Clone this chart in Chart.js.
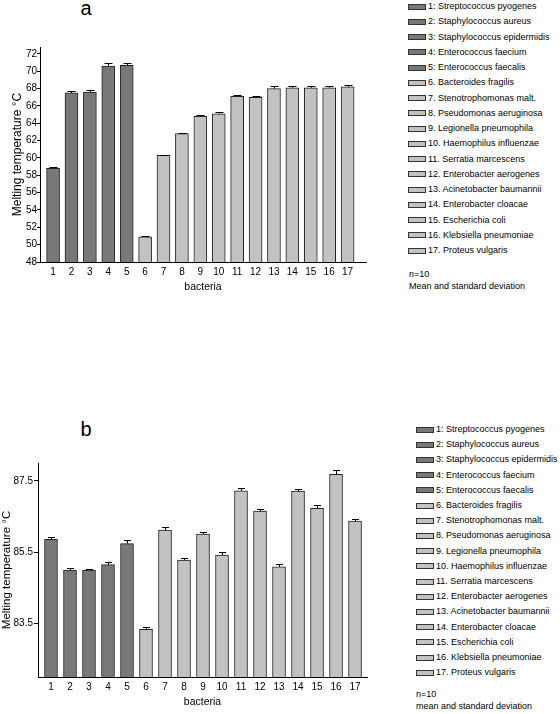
<!DOCTYPE html>
<html>
<head>
<meta charset="utf-8">
<script src="https://cdn.jsdelivr.net/npm/chart.js@4.4.0/dist/chart.umd.min.js"></script>
<style>
  html, body { margin: 0; padding: 0; background: #fff; }
  body { width: 560px; height: 714px; position: relative; overflow: hidden;
         font-family: "Liberation Sans", Arial, sans-serif; color: #000; }
  canvas { position: absolute; left: 0; }
  .letter { position: absolute; font-size: 20px; line-height: 20px; }
  .legend { position: absolute; left: 0; top: 0; font-size: 9px; }
  .legend .row { position: absolute; height: 10px; line-height: 10px; white-space: nowrap; }
  .legend .box { display: inline-block; width: 18px; height: 6px; border: 1px solid #333;
                 box-sizing: border-box; vertical-align: middle; margin-right: 2px; }
  .note { position: absolute; font-size: 9px; line-height: 11.8px; white-space: nowrap; }
</style>
</head>
<body>
<div class="letter" style="left:80.5px; top:-2px;">a</div>
<canvas id="chartA" width="380" height="300" style="top:0; width:380px; height:300px;"></canvas>
<div class="legend" id="legendA"></div>
<div class="note" id="noteA" style="left:409px; top:269px;"></div>

<div class="letter" style="left:80.5px; top:419px;">b</div>
<canvas id="chartB" width="380" height="334" style="top:380px; width:380px; height:334px;"></canvas>
<div class="legend" id="legendB"></div>
<div class="note" id="noteB" style="left:416px; top:689px;"></div>

<script>
// bacteria (legend) and their number on the x axis
const bacteria = [
  '1: Streptococcus pyogenes', '2: Staphylococcus aureus', '3: Staphylococcus epidermidis',
  '4: Enterococcus faecium', '5: Enterococcus faecalis', '6. Bacteroides fragilis',
  '7. Stenotrophomonas malt.', '8. Pseudomonas aeruginosa', '9. Legionella pneumophila',
  '10. Haemophilus influenzae', '11. Serratia marcescens', '12. Enterobacter aerogenes',
  '13. Acinetobacter baumannii', '14. Enterobacter cloacae', '15. Escherichia coli',
  '16. Klebsiella pneumoniae', '17. Proteus vulgaris'
];
const xTicks = [1, 2, 3, 4, 5, 6, 7, 8, 9, 10, 11, 12, 13, 14, 15, 16, 17];
// first five are gram positive (dark bars)
const gram = ['pos', 'pos', 'pos', 'pos', 'pos', 'neg', 'neg', 'neg', 'neg', 'neg', 'neg', 'neg', 'neg', 'neg', 'neg', 'neg', 'neg'];

// panel a
const meltA = [58.8, 67.5, 67.6, 70.6, 70.7, 50.9, 60.3, 62.8, 64.8, 65.1, 67.1, 67.0, 68.0, 68.1, 68.1, 68.1, 68.2];
const sdA   = [0.12, 0.2, 0.2, 0.3, 0.25, 0.05, 0.1, 0.1, 0.15, 0.15, 0.2, 0.2, 0.3, 0.2, 0.25, 0.25, 0.2];
const yTicksA = [48, 50, 52, 54, 56, 58, 60, 62, 64, 66, 68, 70, 72];
const noteA = ['n=10', 'Mean and standard deviation'];

// panel b
const meltB = [85.86, 85.0, 85.0, 85.15, 85.74, 83.34, 86.12, 85.28, 86.01, 85.42, 87.22, 86.65, 85.09, 87.21, 86.73, 87.68, 86.37];
const sdB   = [0.06, 0.05, 0.04, 0.08, 0.1, 0.06, 0.09, 0.06, 0.06, 0.08, 0.07, 0.06, 0.07, 0.07, 0.08, 0.11, 0.05];
const yTicksB = [83.5, 85.5, 87.5];
const noteB = ['n=10', 'mean and standard deviation'];

const FONT = '"Liberation Sans", Arial, sans-serif';
Chart.defaults.font.family = FONT;
Chart.defaults.color = '#000';

const DARK = '#787878', LIGHT = '#c2c2c2';

// error bars drawn from the y scale
const errorBars = {
  id: 'errorBars',
  afterDatasetsDraw(chart, args, opts) {
    const ctx = chart.ctx;
    const y = chart.scales.y;
    const ds = chart.data.datasets[0];
    const meta = chart.getDatasetMeta(0);
    ctx.save();
    ctx.strokeStyle = '#000';
    ctx.lineWidth = 1;
    meta.data.forEach((bar, i) => {
      const top = Math.round(y.getPixelForValue(ds.data[i].y + ds.sd[i])) + 0.5;
      const x = Math.round(bar.x) + 0.5;
      ctx.beginPath();
      ctx.moveTo(x, bar.y);
      ctx.lineTo(x, top);
      ctx.moveTo(x - opts.cap / 2, top);
      ctx.lineTo(x + opts.cap / 2, top);
      ctx.stroke();
    });
    ctx.restore();
  }
};

function makeChart(id, values, sd, yTicks, o) {
  return new Chart(document.getElementById(id), {
    type: 'bar',
    data: {
      datasets: [{
        data: values.map((v, i) => ({ x: xTicks[i], y: v })),
        sd: sd,
        backgroundColor: gram.map(g => g === 'pos' ? DARK : LIGHT),
        borderColor: '#222',
        borderWidth: 1,
        barThickness: 13
      }]
    },
    options: {
      responsive: false,
      animation: false,
      layout: { padding: { top: o.padTop, right: o.padRight, left: 0, bottom: 0 } },
      plugins: {
        legend: { display: false },
        tooltip: { enabled: false },
        errorBars: { cap: o.cap }
      },
      scales: {
        x: {
          type: 'linear',
          offset: false,
          min: o.xMin, max: o.xMax,
          grid: { display: false, drawTicks: false },
          border: { display: true, color: '#000', width: 1 },
          ticks: { padding: 4, font: { size: 10 }, callback: v => String(v) },
          afterBuildTicks: s => { s.ticks = xTicks.map(v => ({ value: v })); },
          afterFit: s => { s.height = o.xHeight; },
          title: { display: true, text: 'bacteria', font: { size: 10.5 }, padding: { top: 0, bottom: o.xTitlePad } }
        },
        y: {
          min: o.yMin, max: o.yMax,
          beginAtZero: false,
          grid: { display: true, drawOnChartArea: false, drawTicks: true, tickLength: o.tickLen, color: '#000' },
          border: { display: true, color: '#000', width: 1 },
          ticks: { padding: o.tickPad, font: { size: 10 }, callback: v => String(v) },
          afterBuildTicks: s => { s.ticks = yTicks.map(v => ({ value: v })); },
          afterFit: s => { s.width = o.yWidth; },
          title: { display: true, text: 'Melting temperature °C',
                   font: { size: o.yTitleSize, lineHeight: 1.2 }, padding: { top: o.yTitlePad, bottom: 0 } }
        }
      }
    },
    plugins: [errorBars]
  });
}

function makeLegend(id, left, firstY, step) {
  const el = document.getElementById(id);
  bacteria.forEach((name, i) => {
    const row = document.createElement('div');
    row.className = 'row';
    row.style.left = left + 'px';
    row.style.top = (firstY + i * step - 5) + 'px';
    const box = document.createElement('span');
    box.className = 'box';
    box.style.background = gram[i] === 'pos' ? DARK : LIGHT;
    row.appendChild(box);
    row.appendChild(document.createTextNode(name));
    el.appendChild(row);
  });
}

makeChart('chartA', meltA, sdA, yTicksA, {
  padTop: 47, padRight: 14, xMin: 0.29, xMax: 18.0, yMin: 48, yMax: 72.8,
  xHeight: 38, xTitlePad: 7, yWidth: 40, tickLen: 3, tickPad: 0,
  yTitleSize: 12, yTitlePad: 10, cap: 8
});
makeChart('chartB', meltB, sdB, yTicksB, {
  padTop: 83, padRight: 13, xMin: 0.316, xMax: 17.63, yMin: 82, yMax: 88,
  xHeight: 37, xTitlePad: 6, yWidth: 38, tickLen: 4, tickPad: 1,
  yTitleSize: 11.5, yTitlePad: 0, cap: 7
});

makeLegend('legendA', 408, 6, 15.25);
makeLegend('legendB', 416, 429, 15.2);
document.getElementById('noteA').innerHTML = noteA.join('<br>');
document.getElementById('noteB').innerHTML = noteB.join('<br>');
</script>
</body>
</html>
